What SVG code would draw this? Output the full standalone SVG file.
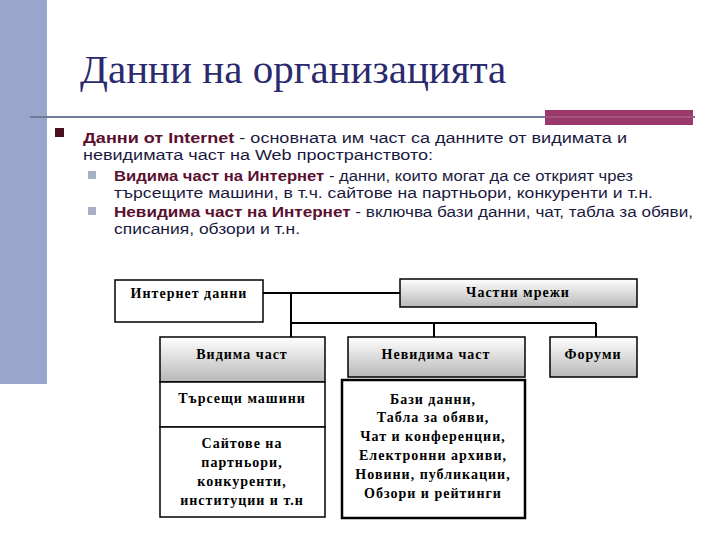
<svg xmlns="http://www.w3.org/2000/svg" width="720" height="540" viewBox="0 0 720 540">
<defs>
<linearGradient id="g" x1="0" y1="0" x2="0" y2="1"><stop offset="0" stop-color="#ffffff"/><stop offset="1" stop-color="#b8b8b8"/></linearGradient>
<style>
.b{stroke:#000;stroke-width:1.5;fill:#fff}
.gr{stroke:#000;stroke-width:1.5;fill:url(#g)}
.t{font-family:"Liberation Serif",serif;font-weight:bold;font-size:14px;letter-spacing:1px;text-anchor:middle;fill:#000}
.s{font-family:"Liberation Sans",sans-serif;font-size:15.5px;fill:#1a1a40}
.k{font-weight:bold;fill:#5a1030}
.c{stroke:#000;stroke-width:2;fill:none}
</style>
</defs>
<rect x="0" y="0" width="47" height="384" fill="#98a6cc"/>
<text x="80" y="83" font-family="Liberation Serif,serif" font-size="41" fill="#2a2a6e">Данни на организацията</text>
<line x1="30" y1="117" x2="695" y2="117" stroke="#6f7b9a" stroke-width="2"/>
<rect x="545" y="110" width="148" height="15" fill="#9b3a6a"/>
<line x1="545" y1="117" x2="693" y2="117" stroke="#b07090" stroke-width="1"/>
<rect x="55" y="128" width="9" height="9" fill="#4a1020"/>
<text class="s" x="83" y="143" textLength="544" lengthAdjust="spacingAndGlyphs"><tspan class="k">Данни от Internet</tspan> - основната им част са данните от видимата и</text>
<text class="s" x="83" y="160" textLength="350" lengthAdjust="spacingAndGlyphs">невидимата част на Web пространството:</text>
<rect x="88" y="171" width="8" height="8" fill="#a8b0c8"/>
<text class="s" x="114" y="181" textLength="519" lengthAdjust="spacingAndGlyphs"><tspan class="k">Видима част на Интернет</tspan> - данни, които могат да се открият чрез</text>
<text class="s" x="114" y="198" textLength="539" lengthAdjust="spacingAndGlyphs">търсещите машини, в т.ч. сайтове на партньори, конкуренти и т.н.</text>
<rect x="88" y="207" width="8" height="8" fill="#a8b0c8"/>
<text class="s" x="114" y="217" textLength="579" lengthAdjust="spacingAndGlyphs"><tspan class="k">Невидима част на Интернет</tspan> - включва бази данни, чат, табла за обяви,</text>
<text class="s" x="114" y="234" textLength="186" lengthAdjust="spacingAndGlyphs">списания, обзори и т.н.</text>
<g id="connectors">
<path class="c" d="M263 293H400M291 293V337M291 323H596M434 323V337M596 323V337"/>
</g>
<g id="internet"><rect class="b" x="115" y="280" width="148" height="42"/><text class="t" x="189" y="298">Интернет данни</text></g>
<g id="chastni"><rect class="gr" x="400" y="279" width="237" height="28"/><text class="t" x="518" y="297">Частни мрежи</text></g>
<g id="vidima"><rect class="gr" x="160" y="337" width="165" height="45"/><text class="t" x="242" y="359">Видима част</text></g>
<g id="tarseshti"><rect class="b" x="160" y="382" width="165" height="45"/><text class="t" x="242" y="403">Търсещи машини</text></g>
<g id="saitove"><rect class="b" x="160" y="427" width="165" height="90"/><text class="t" x="242" y="448">Сайтове на</text><text class="t" x="242" y="467">партньори,</text><text class="t" x="242" y="486">конкуренти,</text><text class="t" x="242" y="505">институции и т.н</text></g>
<g id="nevidima"><rect class="gr" x="348" y="337" width="177" height="40"/><text class="t" x="436" y="359">Невидима част</text></g>
<g id="bazi"><rect x="342" y="380" width="183" height="138" fill="#fff" stroke="#000" stroke-width="2.5"/>
<text class="t" x="433" y="404">Бази данни,</text><text class="t" x="433" y="422">Табла за обяви,</text><text class="t" x="433" y="441">Чат и конференции,</text><text class="t" x="433" y="460">Електронни архиви,</text><text class="t" x="433" y="479">Новини, публикации,</text><text class="t" x="433" y="498">Обзори и рейтинги</text></g>
<g id="forumi"><rect class="gr" x="550" y="337" width="87" height="40"/><text class="t" x="593" y="359">Форуми</text></g>
</svg>
